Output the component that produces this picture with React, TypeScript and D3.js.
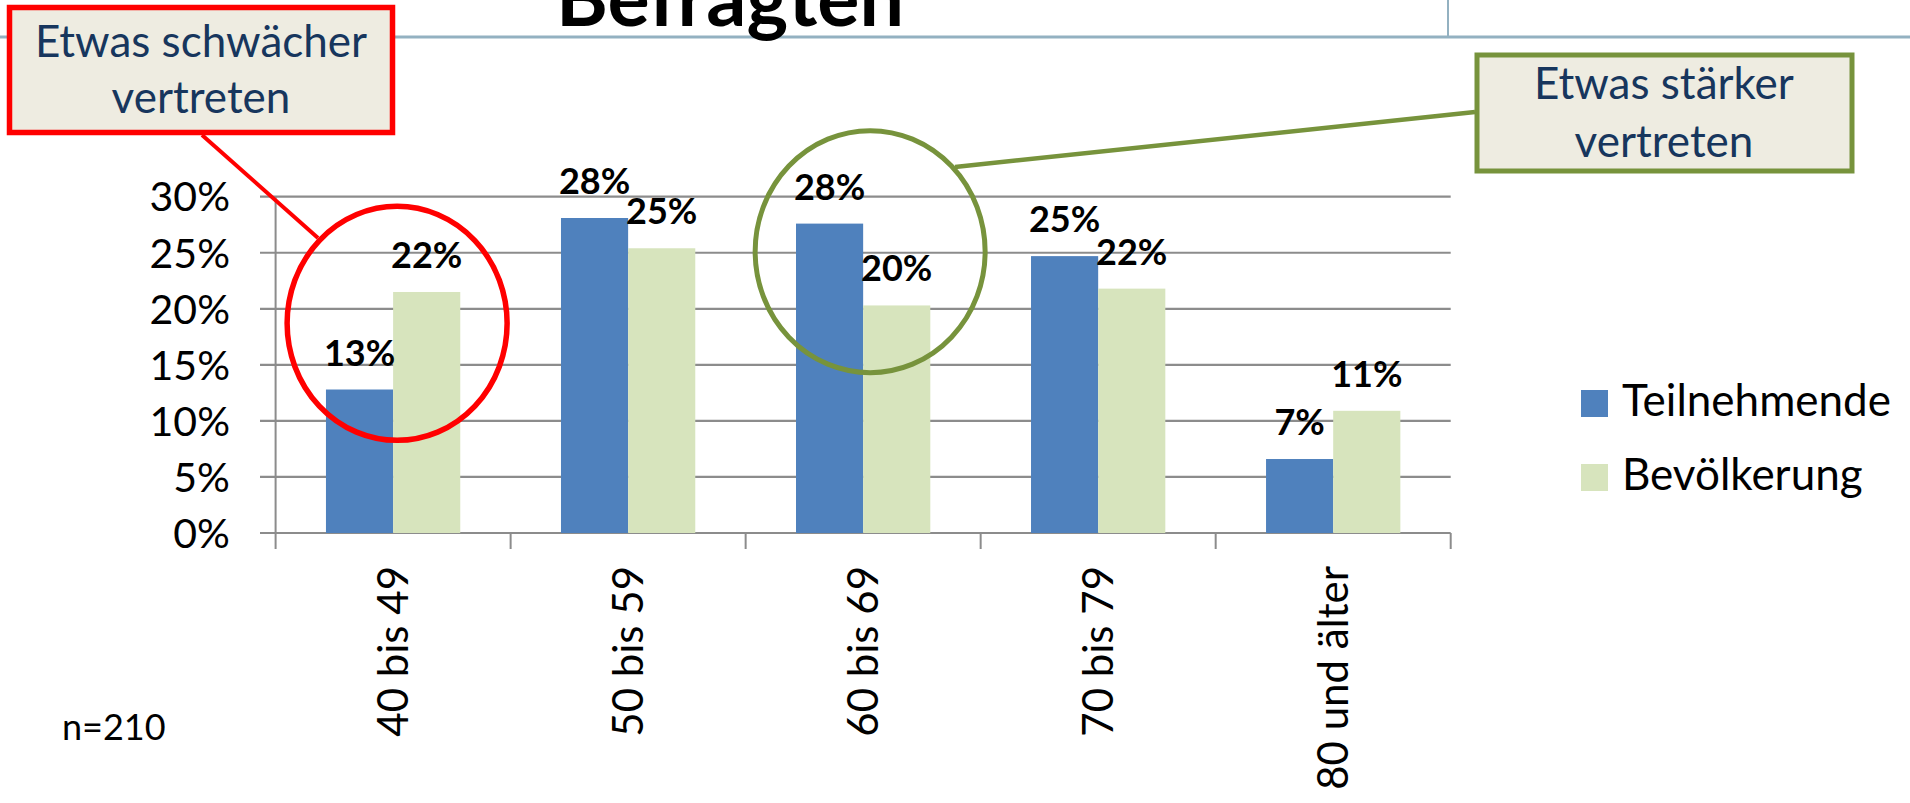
import React from "react";
import * as d3 from "d3";

// data
const categories = ["40 bis 49", "50 bis 59", "60 bis 69", "70 bis 79", "80 und älter"];
const seriesNames = ["Teilnehmende", "Bevölkerung"];
const teilnehmende = [0.128, 0.281, 0.276, 0.247, 0.066];
const bevoelkerung = [0.215, 0.254, 0.203, 0.218, 0.109];
const valueLabels = [
  ["13%", "28%", "28%", "25%", "7%"],
  ["22%", "25%", "20%", "22%", "11%"],
];
const yTicks = [0, 0.05, 0.1, 0.15, 0.2, 0.25, 0.3];

const colors = ["#4f81bd", "#d7e4bd"];
const FONT = "Lato, Carlito, Calibri, sans-serif";
const W = 1910;
const H = 803;

const App = () => {
  const series = [teilnehmende, bevoelkerung];

  const x0 = d3.scaleBand<string>().domain(categories).range([275.6, 1450.7]).padding(0);
  const x1 = d3
    .scaleBand<string>()
    .domain(seriesNames)
    .range([0, x0.bandwidth()])
    .paddingInner(0)
    .paddingOuter(0.75);
  const y = d3.scaleLinear().domain([0, 0.3]).range([533, 196.7]);
  const fmt = d3.format(".0%");

  const [xl, xr] = x0.range();
  const bw = x0.bandwidth();

  // annotation anchors taken from the scales
  const redC = { x: (x0(categories[0]) as number) + bw / 2 + 4, y: y(0.187) };
  const greenC = { x: (x0(categories[2]) as number) + bw / 2 + 7, y: y(0.251) };

  return (
    <div style={{ position: "absolute", left: 0, top: 0 }}>
      <svg width={W} height={H} style={{ display: "block", background: "#fff" }}>
        {/* slide frame lines */}
        <line x1={0} x2={W} y1={37} y2={37} stroke="#93b1c1" strokeWidth={3} />
        <line x1={1448} x2={1448} y1={0} y2={37} stroke="#93b1c1" strokeWidth={2} />
        <text x={556} y={26} fontFamily={FONT} fontWeight="bold" fontSize={79} fill="#000">
          Befragten
        </text>

        {/* gridlines + y ticks */}
        {yTicks.map((t) => (
          <g key={t}>
            <line x1={260} x2={xr} y1={y(t)} y2={y(t)} stroke="#8c8c8c" strokeWidth={2.2} />
            <text
              x={230}
              y={y(t)}
              dy="0.36em"
              textAnchor="end"
              fontFamily={FONT}
              fontSize={41}
              fill="#000"
            >
              {fmt(t)}
            </text>
          </g>
        ))}
        <line x1={xl} x2={xl} y1={y(0.3)} y2={y(0)} stroke="#8c8c8c" strokeWidth={2} />
        {[...categories.map((c) => x0(c) as number), xr].map((v, i) => (
          <line key={i} x1={v} x2={v} y1={y(0)} y2={y(0) + 16} stroke="#8c8c8c" strokeWidth={2} />
        ))}

        {/* bars */}
        {categories.map((c, ci) => (
          <g key={c} transform={`translate(${x0(c)},0)`}>
            {seriesNames.map((s, si) => {
              const v = series[si][ci];
              return (
                <rect
                  key={s}
                  x={x1(s)}
                  y={y(v)}
                  width={x1.bandwidth()}
                  height={y(0) - y(v)}
                  fill={colors[si]}
                />
              );
            })}
          </g>
        ))}

        {/* value labels */}
        {categories.map((c, ci) =>
          seriesNames.map((s, si) => (
            <text
              key={c + s}
              x={(x0(c) as number) + (x1(s) as number) + x1.bandwidth() / 2}
              y={y(series[si][ci]) - 24}
              textAnchor="middle"
              fontFamily={FONT}
              fontWeight="bold"
              fontSize={36}
              fill="#000"
            >
              {valueLabels[si][ci]}
            </text>
          ))
        )}

        {/* x labels, rotated */}
        {categories.map((c) => {
          const cx = (x0(c) as number) + bw / 2;
          return (
            <text
              key={c}
              transform={`translate(${cx},566) rotate(-90)`}
              dy="0.36em"
              textAnchor="end"
              fontFamily={FONT}
              fontSize={42}
              fill="#000"
            >
              {c}
            </text>
          );
        })}

        <text x={62} y={740} fontFamily={FONT} fontSize={36} fill="#000">
          n=210
        </text>

        {/* legend */}
        {seriesNames.map((s, i) => (
          <g key={s} transform={`translate(1581,${390 + i * 74})`}>
            <rect width={27} height={27} fill={colors[i]} />
            <text x={41} y={26} fontFamily={FONT} fontSize={44} fill="#000">
              {s}
            </text>
          </g>
        ))}

        {/* red annotation */}
        <line x1={202} y1={135} x2={318} y2={238} stroke="#ff0000" strokeWidth={4} />
        <ellipse cx={redC.x} cy={redC.y} rx={110} ry={117} fill="none" stroke="#ff0000" strokeWidth={5.5} />
        <rect x={9.5} y={7.5} width={383} height={125} fill="#eeece1" stroke="#ff0000" strokeWidth={5.5} />
        <text textAnchor="middle" fontFamily={FONT} fontSize={44} fill="#17365d">
          <tspan x={201} y={57}>Etwas schwächer</tspan>
          <tspan x={201} y={113}>vertreten</tspan>
        </text>

        {/* green annotation */}
        <line x1={1475} y1={112} x2={955} y2={167} stroke="#77933c" strokeWidth={4.5} />
        <ellipse cx={greenC.x} cy={greenC.y} rx={115} ry={121} fill="none" stroke="#77933c" strokeWidth={5} />
        <rect x={1477} y={55} width={375} height={116} fill="#eeece1" stroke="#77933c" strokeWidth={5} />
        <text textAnchor="middle" fontFamily={FONT} fontSize={44} fill="#17365d">
          <tspan x={1664} y={99}>Etwas stärker</tspan>
          <tspan x={1664} y={157}>vertreten</tspan>
        </text>
      </svg>
    </div>
  );
};

export default App;
